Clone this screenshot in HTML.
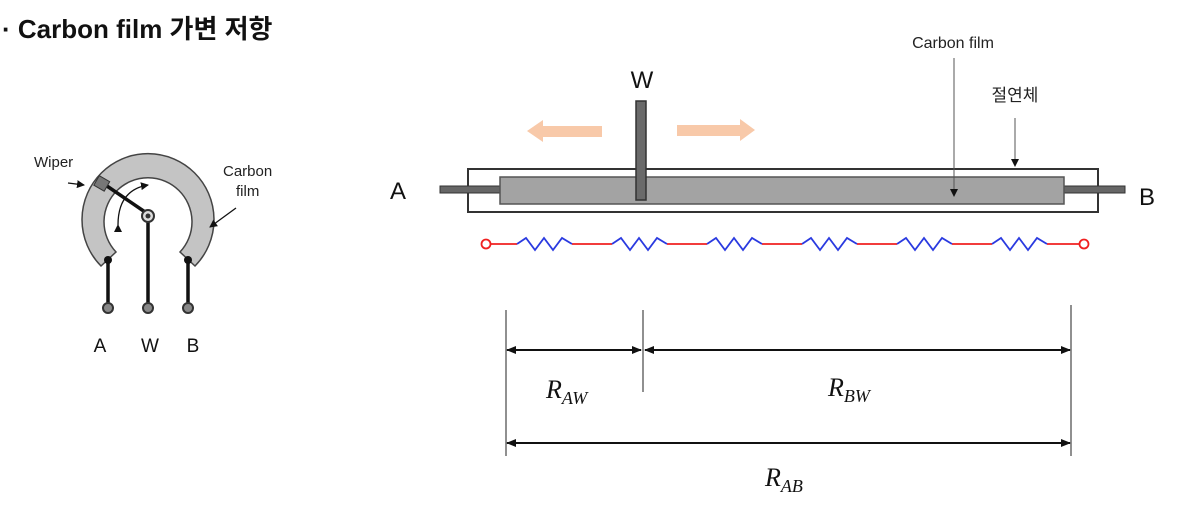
<!DOCTYPE html>
<html><head><meta charset="utf-8"><style>
body{margin:0;background:#fff;width:1180px;height:503px;overflow:hidden}
svg text{font-family:"Liberation Sans","Noto Sans CJK KR",sans-serif}
</style></head><body>
<svg width="1180" height="503" viewBox="0 0 1180 503" xmlns="http://www.w3.org/2000/svg">
<defs>
<marker id="ah" markerWidth="10" markerHeight="8" refX="9" refY="4" orient="auto-start-reverse" markerUnits="userSpaceOnUse"><path d="M0,0 L10,4 L0,8 Z" fill="#111"/></marker>
<marker id="sa" markerWidth="8" markerHeight="8" refX="7" refY="4" orient="auto" markerUnits="userSpaceOnUse"><path d="M0,0 L8,4 L0,8 Z" fill="#111"/></marker>
</defs>
<text x="2" y="38" font-size="26" font-weight="bold" fill="#111">· Carbon film 가변 저항</text>

<!-- left potentiometer -->
<path d="M101,266 A66,66 0 1 1 195,266 L180,252 A44,44 0 1 0 116,252 Z" fill="#c4c4c4" stroke="#444" stroke-width="1.5"/>
<g stroke="#111" stroke-width="3.5">
<line x1="108" y1="260" x2="108" y2="306"/>
<line x1="188" y1="260" x2="188" y2="306"/>
<line x1="148" y1="216" x2="148" y2="306"/>
<line x1="104" y1="184" x2="148" y2="214"/>
</g>
<circle cx="108" cy="260" r="4" fill="#111"/><circle cx="188" cy="260" r="4" fill="#111"/>
<rect x="96" y="178" width="12" height="11" fill="#777" stroke="#333" transform="rotate(30 102 183)"/>
<circle cx="148" cy="216" r="6" fill="#ddd" stroke="#333" stroke-width="2"/><circle cx="148" cy="216" r="2.5" fill="#333"/>
<g fill="#888" stroke="#333" stroke-width="2"><circle cx="108" cy="308" r="5"/><circle cx="148" cy="308" r="5"/><circle cx="188" cy="308" r="5"/></g>
<path d="M118,225 Q118,190 148,185" fill="none" stroke="#111" stroke-width="1.3" marker-start="url(#sa)" marker-end="url(#sa)"/>
<line x1="68" y1="183" x2="84" y2="185" stroke="#111" stroke-width="1.3" marker-end="url(#sa)"/>
<line x1="236" y1="208" x2="210" y2="227" stroke="#111" stroke-width="1.3" marker-end="url(#sa)"/>
<text x="34" y="167" font-size="15" fill="#222">Wiper</text>
<text x="223" y="176" font-size="15" fill="#222">Carbon</text>
<text x="236" y="196" font-size="15" fill="#222">film</text>
<text x="100" y="352" font-size="19" text-anchor="middle" fill="#111">A</text>
<text x="150" y="352" font-size="19" text-anchor="middle" fill="#111">W</text>
<text x="193" y="352" font-size="19" text-anchor="middle" fill="#111">B</text>

<!-- right diagram -->
<text x="953" y="48" font-size="16" text-anchor="middle" fill="#222">Carbon film</text>
<text x="1015" y="101" font-size="17" text-anchor="middle" fill="#222">절연체</text>
<text x="642" y="88" font-size="24" text-anchor="middle" fill="#111">W</text>
<text x="398" y="199" font-size="24" text-anchor="middle" fill="#111">A</text>
<text x="1147" y="205" font-size="24" text-anchor="middle" fill="#111">B</text>
<path d="M602,126 L543,126 L543,120 L527,131 L543,142 L543,137 L602,137 Z" fill="#f8c9a9"/>
<path d="M677,125 L740,125 L740,119 L755,130 L740,141 L740,136 L677,136 Z" fill="#f8c9a9"/>
<rect x="468" y="169" width="630" height="43" fill="#fff" stroke="#333" stroke-width="2"/>
<rect x="440" y="186" width="60" height="7" fill="#666" stroke="#333"/>
<rect x="1064" y="186" width="61" height="7" fill="#666" stroke="#333"/>
<rect x="500" y="177" width="564" height="27" fill="#a3a3a3" stroke="#555" stroke-width="1.5"/>
<rect x="636" y="101" width="10" height="99" fill="#6a6a6a" stroke="#333" stroke-width="1.5"/>
<line x1="954" y1="58" x2="954" y2="196" stroke="#555" stroke-width="1" marker-end="url(#sa)"/>
<line x1="1015" y1="118" x2="1015" y2="166" stroke="#555" stroke-width="1" marker-end="url(#sa)"/>

<!-- resistor chain -->
<g fill="none" stroke-width="1.8" stroke-linejoin="miter">
<path d="M491,244 H517 M572,244 H612 M667,244 H707 M762,244 H802 M857,244 H897 M952,244 H992 M1047,244 H1080" stroke="#f02020"/>
<g stroke="#2a3ae0">
<path d="M517,244 l9,-6 l9,12 l9,-12 l9,12 l9,-12 l10,6"/>
<path d="M612,244 l9,-6 l9,12 l9,-12 l9,12 l9,-12 l10,6"/>
<path d="M707,244 l9,-6 l9,12 l9,-12 l9,12 l9,-12 l10,6"/>
<path d="M802,244 l9,-6 l9,12 l9,-12 l9,12 l9,-12 l10,6"/>
<path d="M897,244 l9,-6 l9,12 l9,-12 l9,12 l9,-12 l10,6"/>
<path d="M992,244 l9,-6 l9,12 l9,-12 l9,12 l9,-12 l10,6"/>
</g>
<circle cx="486" cy="244" r="4.5" stroke="#f02020" fill="#fff"/>
<circle cx="1084" cy="244" r="4.5" stroke="#f02020" fill="#fff"/>
</g>

<!-- dimensions -->
<g stroke="#555" stroke-width="1.3">
<line x1="506" y1="310" x2="506" y2="456"/>
<line x1="643" y1="310" x2="643" y2="392"/>
<line x1="1071" y1="305" x2="1071" y2="456"/>
</g>
<g stroke="#111" stroke-width="2">
<line x1="507" y1="350" x2="641" y2="350" marker-start="url(#ah)" marker-end="url(#ah)"/>
<line x1="645" y1="350" x2="1070" y2="350" marker-start="url(#ah)" marker-end="url(#ah)"/>
<line x1="507" y1="443" x2="1070" y2="443" marker-start="url(#ah)" marker-end="url(#ah)"/>
</g>
<g font-style="italic" fill="#111">
<text x="546" y="398" font-size="26" style="font-family:'Liberation Serif',serif">R<tspan font-size="18" dy="6">AW</tspan></text>
<text x="828" y="396" font-size="26" style="font-family:'Liberation Serif',serif">R<tspan font-size="18" dy="6">BW</tspan></text>
<text x="765" y="486" font-size="26" style="font-family:'Liberation Serif',serif">R<tspan font-size="18" dy="6">AB</tspan></text>
</g>
</svg>
</body></html>
